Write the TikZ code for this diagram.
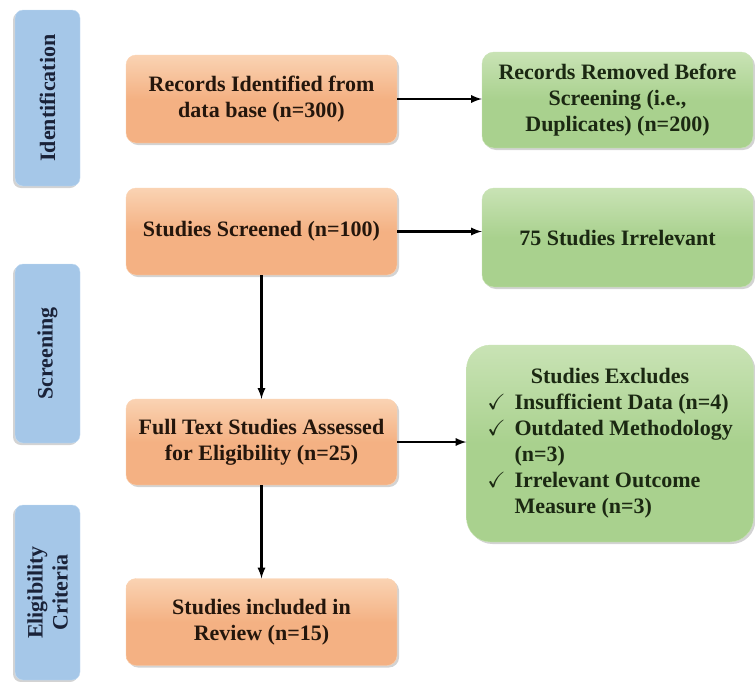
\documentclass[tikz,border=0pt]{standalone}
\usepackage{amssymb}
\usepackage{fontspec}
\setmainfont{Liberation Serif}
\usepackage{tikz}
\usetikzlibrary{arrows,shadows}

\definecolor{barblue}{HTML}{A5C7E8}
\definecolor{bluetop}{HTML}{C4DCF2}
\definecolor{bartext}{HTML}{1A2238}
\definecolor{ormain}{HTML}{F4B183}
\definecolor{ortop}{HTML}{FAD3B3}
\definecolor{ortext}{HTML}{24160C}
\definecolor{grmain}{HTML}{A9D18E}
\definecolor{grtop}{HTML}{C9E3B5}
\definecolor{grtext}{HTML}{1B2812}

\tikzset{
  stage/.style={rotate=90,rounded corners=8pt,fill=barblue,
    draw=bluetop,minimum width=#1,minimum height=65pt,inner sep=0pt,align=center,
    text=bartext,font=\fontsize{22}{25}\selectfont\bfseries,
    drop shadow={shadow xshift=-2pt,shadow yshift=-2pt,opacity=.35}},
  orbox/.style={rounded corners=10pt,top color=ortop,bottom color=ormain,middle color=ormain,
    draw=ortop,minimum width=271pt,minimum height=#1,inner sep=0pt,align=center,
    text=ortext,font=\fontsize{22}{26}\selectfont\bfseries,
    drop shadow={shadow xshift=2pt,shadow yshift=-2pt,opacity=.35}},
  grbox/.style={rounded corners=12pt,top color=grtop,bottom color=grmain,middle color=grmain,
    draw=grtop,minimum width=271pt,minimum height=#1,inner sep=0pt,align=center,
    text=grtext,font=\fontsize{22}{26}\selectfont\bfseries,
    drop shadow={shadow xshift=2pt,shadow yshift=-2pt,opacity=.35}},
  flow/.style={-latex,line width=2.6pt,black}
}

\begin{document}
\begin{tikzpicture}[x=1pt,y=-1pt]
  \useasboundingbox (0,0) rectangle (755,681);
  % stages on the left
  \node[stage=176pt] (ident) at (47.5,98) {Identification};
  \node[stage=179pt] (scr) at (47.5,353.5) {Screening};
  \node[stage=175pt] (elig) at (47.5,592.5) {Eligibility\\Criteria};
  % main flow
  \node[orbox=88pt] (rec) at (261.5,99) {Records Identified from\\data base (n=300)};
  \node[orbox=87pt] (scrn) at (261.5,231.5) {Studies Screened (n=100)};
  \node[orbox=86pt] (full) at (261.5,442) {Full Text Studies Assessed\\for Eligibility (n=25)};
  \node[orbox=87pt] (incl) at (261.5,622) {Studies included in\\Review (n=15)};
  % removed records
  \node[grbox=96pt] (rem) at (617.5,100) {Records Removed Before\\Screening (i.e.,\\Duplicates) (n=200)};
  \node[grbox=99pt] (irr) at (617.5,237.5) {75 Studies Irrelevant};
  \node[grbox=197pt,minimum width=287pt,rounded corners=24pt] (excl) at (610,443.5) {%
    \begin{tabular}{@{}l@{\hspace{9pt}}l@{}}
      \multicolumn{2}{c}{Studies Excludes}\\
      \checkmark & Insufficient Data (n=4)\\
      \checkmark & Outdated Methodology\\
                 & (n=3)\\
      \checkmark & Irrelevant Outcome\\
                 & Measure (n=3)
    \end{tabular}};
  \draw[flow] (rec.east) -- (rec.east -| rem.west);
  \draw[flow] (scrn.east) -- (scrn.east -| irr.west);
  \draw[flow] (scrn) -- (full);
  \draw[flow] (full.east) -- (full.east -| excl.west);
  \draw[flow] (full) -- (incl);
\end{tikzpicture}
\end{document}
